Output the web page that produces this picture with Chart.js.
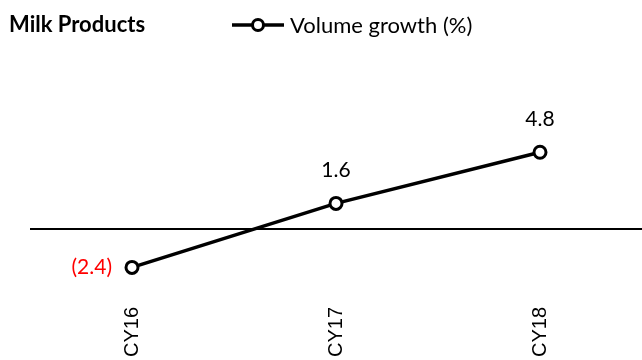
<!DOCTYPE html>
<html>
<head>
<meta charset="utf-8">
<script src="https://cdn.jsdelivr.net/npm/chart.js@4/dist/chart.umd.min.js"></script>
<style>
  html, body { margin: 0; padding: 0; background: #fff; }
  #wrap { position: relative; width: 642px; height: 360px; }
  #c { position: absolute; left: 0; top: 0; }
  #title { position: absolute; left: 9px; top: 11px; font: bold 22px Lato, sans-serif; line-height: 1.2; color: #000; white-space: nowrap; }
  #legendIcon { position: absolute; left: 231px; top: 17px; }
  #legendText { position: absolute; left: 290px; top: 12px; font: 22px Lato, sans-serif; line-height: 1.2; color: #000; white-space: nowrap; }
</style>
</head>
<body>
<div id="wrap">
  <canvas id="c" width="642" height="360"></canvas>
  <div id="title">Milk Products</div>
  <svg id="legendIcon" width="54" height="16" viewBox="0 0 54 16">
    <line x1="1" y1="8" x2="53" y2="8" stroke="#000" stroke-width="3.5"/>
    <circle cx="27" cy="8" r="5.5" fill="#fff" stroke="#000" stroke-width="3"/>
  </svg>
  <div id="legendText">Volume growth (%)</div>
</div>
<script>
const categories = ['CY16', 'CY17', 'CY18'];
const volumeGrowth = [-2.4, 1.6, 4.8];
const yRange = [-4, 8];

// Accounting style: negatives in parentheses
function fmt(v) {
  const s = Math.abs(v).toFixed(1);
  return v < 0 ? '(' + s + ')' : s;
}

// Horizontal line at zero across the plot area
const zeroLine = {
  id: 'zeroLine',
  beforeDatasetsDraw(chart) {
    const { ctx, chartArea, scales } = chart;
    const y = scales.y.getPixelForValue(0);
    ctx.save();
    ctx.strokeStyle = '#000';
    ctx.lineWidth = 2;
    ctx.beginPath();
    ctx.moveTo(chartArea.left, y);
    ctx.lineTo(chartArea.right, y);
    ctx.stroke();
    ctx.restore();
  }
};

// Value labels: above positive points, left of negative ones (red)
const valueLabels = {
  id: 'valueLabels',
  afterDatasetsDraw(chart) {
    const { ctx } = chart;
    const meta = chart.getDatasetMeta(0);
    ctx.save();
    ctx.font = '21px Lato, sans-serif';
    ctx.textBaseline = 'alphabetic';
    meta.data.forEach((pt, i) => {
      const v = volumeGrowth[i];
      if (v < 0) {
        ctx.fillStyle = '#ff0000';
        ctx.textAlign = 'right';
        ctx.fillText(fmt(v), pt.x - 20, pt.y + 7);
      } else {
        ctx.fillStyle = '#000';
        ctx.textAlign = 'center';
        ctx.fillText(fmt(v), pt.x, pt.y - 26);
      }
    });
    ctx.restore();
  }
};

new Chart(document.getElementById('c'), {
  type: 'line',
  data: {
    labels: categories,
    datasets: [{
      label: 'Volume growth (%)',
      data: volumeGrowth,
      borderColor: '#000',
      borderWidth: 3.5,
      backgroundColor: '#fff',
      pointBackgroundColor: '#fff',
      pointBorderColor: '#000',
      pointBorderWidth: 3,
      pointRadius: 6,
      tension: 0,
      fill: false
    }]
  },
  options: {
    responsive: false,
    animation: false,
    devicePixelRatio: 1,
    layout: {
      autoPadding: false,
      padding: { left: 30, right: 0, top: 101, bottom: 0 }
    },
    plugins: {
      legend: { display: false },
      title: { display: false },
      tooltip: { enabled: false }
    },
    scales: {
      x: {
        offset: true,
        grid: { display: false, drawTicks: false },
        border: { display: false },
        ticks: {
          minRotation: 90,
          maxRotation: 90,
          padding: 14,
          color: '#000',
          font: { family: '"Liberation Sans", Arial, sans-serif', size: 20 }
        },
        afterFit(scale) {
          scale.height = 67;
          scale.paddingLeft = 0;
          scale.paddingRight = 0;
        }
      },
      y: {
        display: false,
        min: yRange[0],
        max: yRange[1]
      }
    }
  },
  plugins: [zeroLine, valueLabels]
});
</script>
</body>
</html>
